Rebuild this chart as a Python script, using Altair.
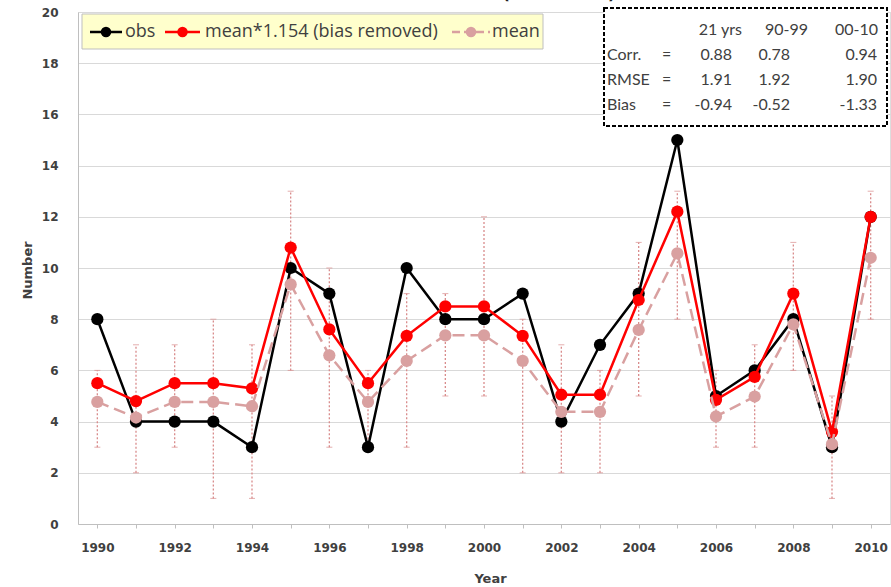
import altair as alt
import pandas as pd

years = list(range(1990, 2011))
obs = [8, 4, 4, 4, 3, 10, 9, 3, 10, 8, 8, 9, 4, 7, 9, 15, 5, 6, 8, 3, 12]
scaled = [5.5, 4.8, 5.5, 5.5, 5.3, 10.8, 7.6, 5.5, 7.35, 8.5, 8.5, 7.35, 5.05, 5.05, 8.75, 12.2, 4.85, 5.75, 9.0, 3.6, 12.0]
mean = [4.77, 4.16, 4.77, 4.77, 4.6, 9.36, 6.59, 4.77, 6.37, 7.37, 7.37, 6.37, 4.38, 4.38, 7.58, 10.57, 4.2, 4.98, 7.8, 3.12, 10.4]
err_lo = [3, 2, 3, 1, 1, 6, 3, 3, 3, 5, 5, 2, 2, 2, 5, 8, 3, 3, 6, 1, 8]
err_hi = [6, 7, 7, 8, 7, 13, 10, 6, 9, 9, 12, 8, 7, 6, 11, 13, 6, 7, 11, 5, 13]

legend_labels = ["obs", "mean*1.154 (bias removed)", "mean"]
stat_headers = ["21 yrs", "90-99", "00-10"]
stat_rows = ["Corr.", "RMSE", "Bias"]
stat_values = [["0.88", "0.78", "0.94"],
               ["1.91", "1.92", "1.90"],
               ["-0.94", "-0.52", "-1.33"]]
title_text = "North Atlantic Basin (Hurricanes)"

df = pd.DataFrame({"year": years, "obs": obs, "scaled": scaled, "mean": mean,
                   "lo": err_lo, "hi": err_hi})

W, H = 812, 512
BLACK = "#000000"
RED = "#FF0000"
PINK = "#D9A0A0"
ERRC = "#D98C8C"
TXT = "#404040"
FONT = "Lato"

xs = alt.Scale(domain=[1989.5, 2010.5], nice=False, zero=False)
ys = alt.Scale(domain=[0, 20], nice=False)

xaxis = alt.Axis(values=years, format="d",
                 labelExpr="datum.value % 2 == 0 ? datum.label : ''",
                 grid=False, tickSize=4, tickColor="#BFBFBF", domainColor="#BFBFBF",
                 labelFont="DejaVu Sans", labelFontWeight="bold", labelFontSize=12,
                 labelColor=TXT, labelPadding=14, title="Year",
                 titleFont="DejaVu Sans", titleFontWeight="bold", titleFontSize=13,
                 titleColor=TXT, titleX=412, titleY=54, titleBaseline="middle")
yaxis = alt.Axis(values=list(range(0, 21, 2)), grid=True, gridColor="#D9D9D9",
                 tickSize=0, domainColor="#BFBFBF",
                 labelFont="DejaVu Sans", labelFontWeight="bold", labelFontSize=12,
                 labelColor=TXT, labelPadding=20, title="Number",
                 titleFont="DejaVu Sans", titleFontWeight="bold", titleFontSize=13,
                 titleColor=TXT, titleX=-51, titleY=258, titleAngle=270,
                 titleAlign="center", titleBaseline="middle")

base = alt.Chart(df)

err = base.mark_rule(color=ERRC, strokeDash=[2, 2], strokeWidth=1.3).encode(
    x=alt.X("year:Q", scale=xs, axis=xaxis),
    y=alt.Y("lo:Q", scale=ys, axis=yaxis),
    y2="hi:Q")
cap_lo = base.mark_tick(color=ERRC, orient="horizontal", size=6, thickness=1).encode(
    x=alt.X("year:Q", scale=xs), y=alt.Y("lo:Q", scale=ys))
cap_hi = base.mark_tick(color=ERRC, orient="horizontal", size=6, thickness=1).encode(
    x=alt.X("year:Q", scale=xs), y=alt.Y("hi:Q", scale=ys))


def series(field, color, dash=None, width=2.5):
    kw = {"color": color, "strokeWidth": width}
    if dash:
        kw["strokeDash"] = dash
    ln = base.mark_line(**kw).encode(x=alt.X("year:Q", scale=xs), y=alt.Y(f"{field}:Q", scale=ys))
    pt = base.mark_circle(color=color, opacity=1, size=150).encode(
        x=alt.X("year:Q", scale=xs), y=alt.Y(f"{field}:Q", scale=ys))
    return ln + pt


obs_l = series("obs", BLACK)
sc_l = series("scaled", RED)
mean_l = series("mean", PINK, dash=[12, 6])

one = pd.DataFrame({"a": [0]})

# manual legend (pixel positions inside the plot area)
leg_box = alt.Chart(one).mark_rect(
    fill="#FFFFCC", stroke="#BFBFBF", strokeWidth=1).encode(
    x=alt.value(4), x2=alt.value(465), y=alt.value(2), y2=alt.value(37))
leg_layers = [leg_box]
items = [(BLACK, None, 12, 44, 47), (RED, None, 87, 122, 127), (PINK, [8, 4], 374, 412, 414)]
for (col, dash, x0, x1, tx), lab in zip(items, legend_labels):
    kw = {"color": col, "strokeWidth": 2.5}
    if dash:
        kw["strokeDash"] = dash
    leg_layers.append(alt.Chart(one).mark_rule(**kw).encode(
        x=alt.value(x0), x2=alt.value(x1), y=alt.value(20)))
    leg_layers.append(alt.Chart(one).mark_circle(color=col, opacity=1, size=110).encode(
        x=alt.value((x0 + x1) / 2), y=alt.value(20)))
    leg_layers.append(alt.Chart(pd.DataFrame({"t": [lab]})).mark_text(
        align="left", baseline="middle", font="Open Sans", fontSize=18, color=TXT).encode(
        x=alt.value(tx), y=alt.value(20), text="t:N"))

# stats box
stat_layers = [alt.Chart(one).mark_rect(
    fill="white", stroke="#000000", strokeWidth=2, strokeDash=[4, 2]).encode(
    x=alt.value(526), x2=alt.value(809), y=alt.value(-4), y2=alt.value(114))]
col_right = [654, 712, 799]
head_right = [664, 730, 800]
row_y = [18, 43, 68, 93]
recs = []
for h, xr in zip(stat_headers, head_right):
    recs.append({"t": h, "x": xr, "y": row_y[0], "al": "right"})
for i, (lab, vals) in enumerate(zip(stat_rows, stat_values)):
    recs.append({"t": lab, "x": 529, "y": row_y[i + 1], "al": "left"})
    recs.append({"t": "=", "x": 584, "y": row_y[i + 1], "al": "left"})
    for v, xr in zip(vals, col_right):
        recs.append({"t": v, "x": xr, "y": row_y[i + 1], "al": "right"})
sdf = pd.DataFrame(recs)
for al in ["left", "right"]:
    stat_layers.append(alt.Chart(sdf[sdf.al == al]).mark_text(
        align=al, baseline="middle", font=FONT, fontSize=16, color=TXT).encode(
        x=alt.X("x:Q", scale=None), y=alt.Y("y:Q", scale=None), text="t:N"))

title_l = alt.Chart(pd.DataFrame({"t": [title_text]})).mark_text(
    align="center", baseline="bottom", font="DejaVu Sans", fontWeight="bold",
    fontSize=16, color="#202020").encode(x=alt.value(387), y=alt.value(-10), text="t:N")

chart = alt.layer(err, cap_lo, cap_hi, obs_l, sc_l, mean_l, *leg_layers, *stat_layers, title_l).properties(
    width=W, height=H,
    autosize=alt.AutoSizeParams(type="none"),
    padding={"left": 78, "top": 12, "right": 1, "bottom": 63},
).configure_view(stroke=None).configure(background="white")

chart.save("out.html", embed_options={"renderer": "svg", "actions": False})
